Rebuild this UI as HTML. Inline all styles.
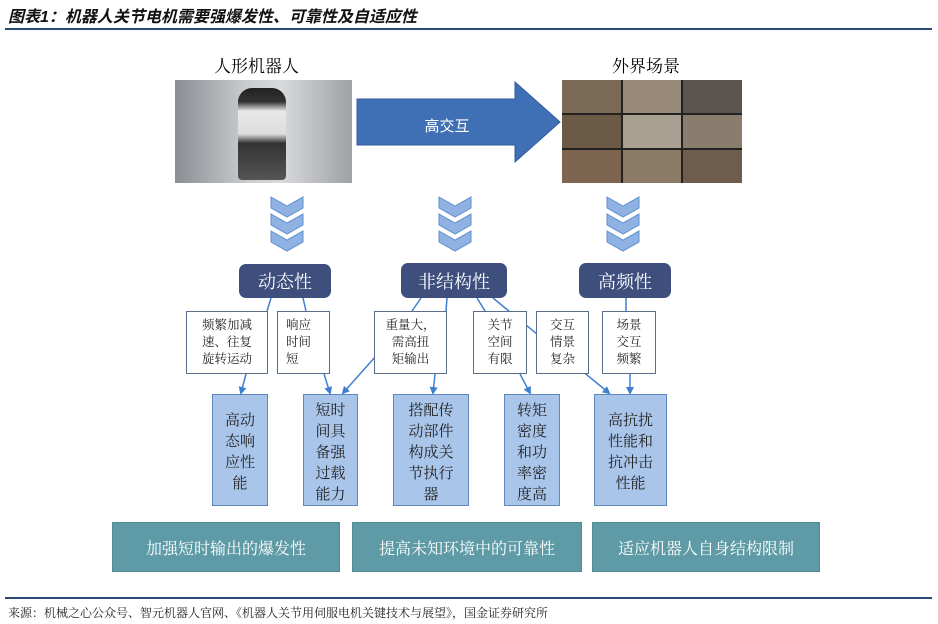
<!DOCTYPE html>
<html><head><meta charset="utf-8"><style>
body{margin:0;width:938px;height:624px;background:#fff;position:relative;overflow:hidden;font-family:"Liberation Sans","Noto Sans CJK SC",sans-serif;}
.a{position:absolute;box-sizing:border-box;}
.hdr{background:#3e4f7e;border-radius:7px;color:#fff;font-size:18px;display:flex;align-items:center;justify-content:center;font-family:"Noto Serif CJK SC",serif;}
.sm{background:#fff;border:1.5px solid #5a6e8a;font-size:12.5px;line-height:17px;padding:4px 0 0 0;text-align:center;font-family:"Noto Serif CJK SC",serif;color:#222;}
.bl{background:#a9c5ea;border:1.5px solid #5d87bd;font-size:15px;line-height:21px;text-align:center;font-family:"Noto Serif CJK SC",serif;color:#222;padding-top:10px;}
.bt{background:#5f9ba6;color:#fff;font-size:16px;display:flex;align-items:center;justify-content:center;border:1px solid #4f8a95;font-family:"Noto Serif CJK SC",serif;}
</style></head><body>
<div class="a" style="left:8px;top:3px;font-size:16px;font-weight:bold;font-style:italic;color:#111;">图表1：机器人关节电机需要强爆发性、可靠性及自适应性</div>
<div class="a" style="left:5px;top:28px;width:927px;height:2px;background:#2b4a78;"></div>
<div class="a" style="left:214px;top:52px;font-size:17px;font-family:'Noto Serif CJK SC',serif;">人形机器人</div>
<div class="a" style="left:612px;top:52px;font-size:17px;font-family:'Noto Serif CJK SC',serif;">外界场景</div>
<div class="a" style="left:175px;top:80px;width:177px;height:103px;background:linear-gradient(90deg,#8a8d92,#c9cbce 40%,#d9dadc 60%,#9ea1a5);"></div>
<div class="a" style="left:238px;top:88px;width:48px;height:92px;background:linear-gradient(180deg,#222 0,#333 15%,#e8e8e8 25%,#ddd 50%,#333 60%,#555 100%);border-radius:14px 14px 4px 4px;"></div>
<div class="a" style="left:562px;top:80px;width:180px;height:103px;display:grid;grid-template-columns:repeat(3,1fr);grid-template-rows:repeat(3,1fr);gap:2px;background:#222;">
<div style="background:#7a6a55"></div><div style="background:#9a8b78"></div><div style="background:#5a5550"></div>
<div style="background:#6b5a45"></div><div style="background:#a8a090"></div><div style="background:#8a7d6d"></div>
<div style="background:#7d6550"></div><div style="background:#8b7a66"></div><div style="background:#6e5d4c"></div></div>
<svg class="a" style="left:0;top:0" width="938" height="624">
<defs><marker id="m" markerWidth="8" markerHeight="8" refX="6" refY="4" orient="auto" markerUnits="userSpaceOnUse"><path d="M0,0L8,4L0,8z" fill="#3f7fd0"/></marker></defs>
<polygon points="357,99 515,99 515,82 560,122 515,162 515,145 357,145" fill="#3f70b5" stroke="#2f5e9e"/>
<text x="447" y="131" font-size="15" fill="#fff" text-anchor="middle" font-family="Noto Sans CJK SC">高交互</text>
<g fill="#8fb2e3" stroke="#5f8fcf">
<g transform="translate(271,197)"><path d="M0,0L16,9L32,0L32,11L16,20L0,11z"/><path transform="translate(0,17)" d="M0,0L16,9L32,0L32,11L16,20L0,11z"/><path transform="translate(0,34)" d="M0,0L16,9L32,0L32,11L16,20L0,11z"/></g>
<g transform="translate(439,197)"><path d="M0,0L16,9L32,0L32,11L16,20L0,11z"/><path transform="translate(0,17)" d="M0,0L16,9L32,0L32,11L16,20L0,11z"/><path transform="translate(0,34)" d="M0,0L16,9L32,0L32,11L16,20L0,11z"/></g>
<g transform="translate(607,197)"><path d="M0,0L16,9L32,0L32,11L16,20L0,11z"/><path transform="translate(0,17)" d="M0,0L16,9L32,0L32,11L16,20L0,11z"/><path transform="translate(0,34)" d="M0,0L16,9L32,0L32,11L16,20L0,11z"/></g>
</g>
<g stroke="#3f7fd0" stroke-width="1.5" fill="none">
<line x1="271" y1="298" x2="267" y2="311"/><line x1="303" y1="298" x2="306" y2="311"/>
<line x1="421" y1="298" x2="412" y2="311"/><line x1="447" y1="298" x2="446" y2="311"/>
<line x1="477" y1="298" x2="485" y2="311"/>
<line x1="493" y1="298" x2="609" y2="393" marker-end="url(#m)"/>
<line x1="626" y1="298" x2="626" y2="311"/>
<line x1="246" y1="374" x2="241" y2="393" marker-end="url(#m)"/>
<line x1="324" y1="374" x2="330" y2="393" marker-end="url(#m)"/>
<line x1="376" y1="356" x2="343" y2="393" marker-end="url(#m)"/>
<line x1="435" y1="374" x2="433" y2="393" marker-end="url(#m)"/>
<line x1="520" y1="374" x2="530" y2="393" marker-end="url(#m)"/>
<line x1="630" y1="374" x2="630" y2="393" marker-end="url(#m)"/>
</g>
</svg>
<div class="a hdr" style="left:239px;top:264px;width:92px;height:34px;">动态性</div>
<div class="a hdr" style="left:401px;top:263px;width:106px;height:35px;">非结构性</div>
<div class="a hdr" style="left:579px;top:263px;width:92px;height:35px;">高频性</div>
<div class="a sm" style="left:186px;top:311px;width:82px;height:63px;">频繁加减<br>速、往复<br>旋转运动</div>
<div class="a sm" style="left:277px;top:311px;width:53px;height:63px;text-align:left;padding-left:8px;">响应<br>时间<br>短</div>
<div class="a sm" style="left:374px;top:311px;width:73px;height:63px;">重量大，<br>需高扭<br>矩输出</div>
<div class="a sm" style="left:473px;top:311px;width:54px;height:63px;">关节<br>空间<br>有限</div>
<div class="a sm" style="left:536px;top:311px;width:53px;height:63px;">交互<br>情景<br>复杂</div>
<div class="a sm" style="left:602px;top:311px;width:54px;height:63px;">场景<br>交互<br>频繁</div>
<div class="a bl" style="left:212px;top:394px;width:56px;height:112px;padding-top:14px;">高动<br>态响<br>应性<br>能</div>
<div class="a bl" style="left:303px;top:394px;width:55px;height:112px;padding-top:4px;">短时<br>间具<br>备强<br>过载<br>能力</div>
<div class="a bl" style="left:393px;top:394px;width:76px;height:112px;padding-top:4px;">搭配传<br>动部件<br>构成关<br>节执行<br>器</div>
<div class="a bl" style="left:504px;top:394px;width:56px;height:112px;padding-top:4px;">转矩<br>密度<br>和功<br>率密<br>度高</div>
<div class="a bl" style="left:594px;top:394px;width:73px;height:112px;padding-top:14px;">高抗扰<br>性能和<br>抗冲击<br>性能</div>
<div class="a bt" style="left:112px;top:522px;width:228px;height:50px;">加强短时输出的爆发性</div>
<div class="a bt" style="left:352px;top:522px;width:230px;height:50px;">提高未知环境中的可靠性</div>
<div class="a bt" style="left:592px;top:522px;width:228px;height:50px;">适应机器人自身结构限制</div>
<div class="a" style="left:5px;top:597px;width:927px;height:2px;background:#2b4a78;"></div>
<div class="a" style="left:8px;top:604px;font-size:12px;color:#222;font-family:'Noto Serif CJK SC',serif;">来源：机械之心公众号、智元机器人官网、《机器人关节用伺服电机关键技术与展望》，国金证券研究所</div>
</body></html>
